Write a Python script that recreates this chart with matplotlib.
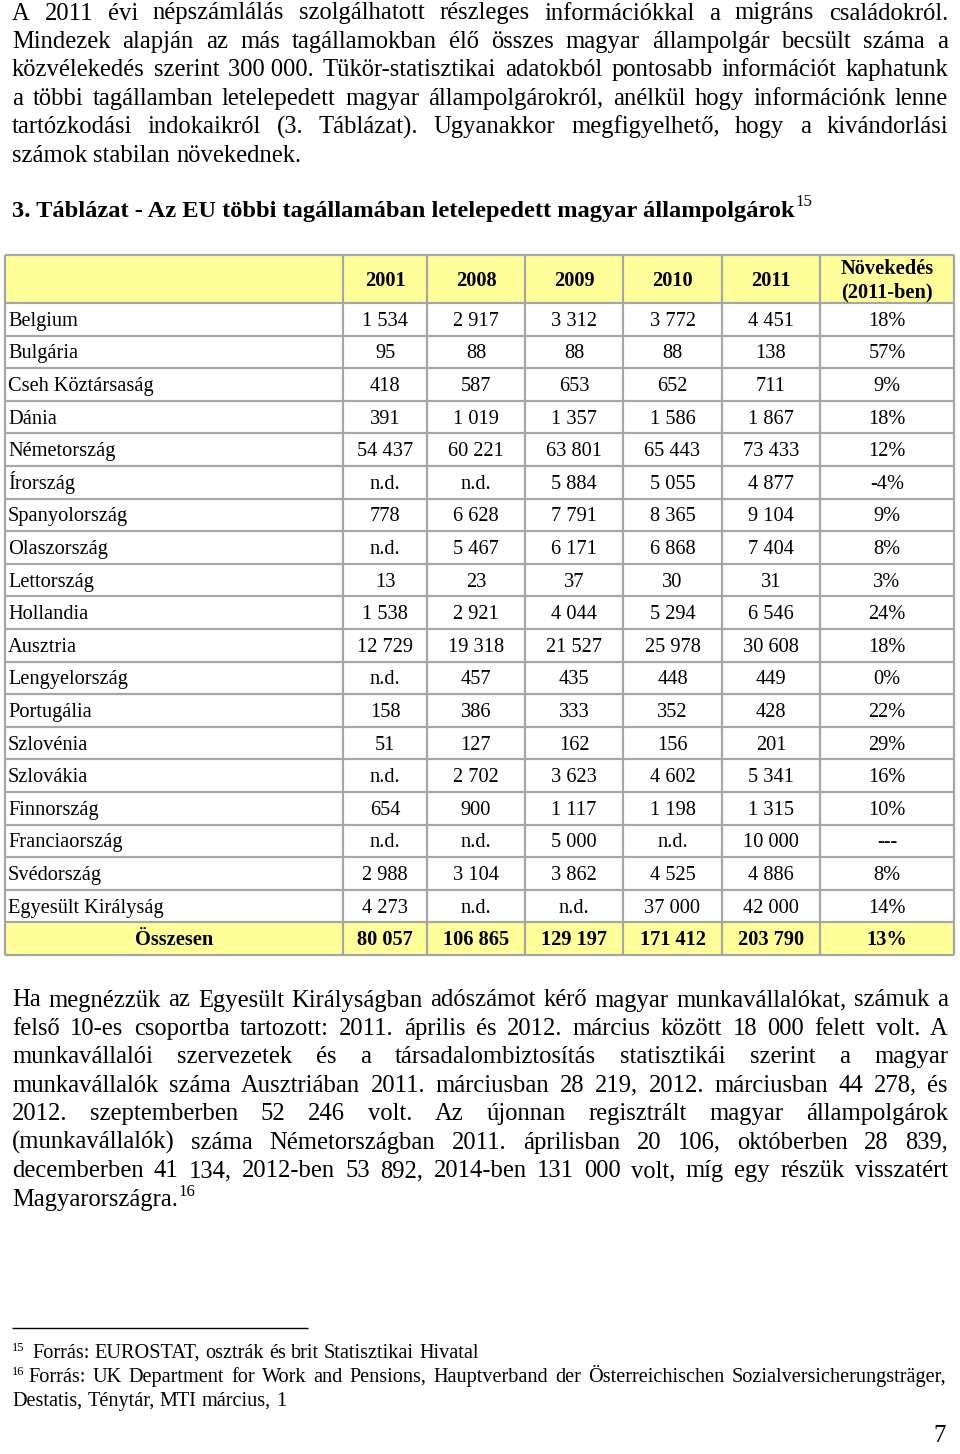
import matplotlib.pyplot as plt
from matplotlib.patches import Rectangle

plt.rcParams['font.family'] = ['Liberation Serif', 'DejaVu Serif']

# ---- table data ----
countries = ["Belgium", "Bulgária", "Cseh Köztársaság", "Dánia", "Németország",
             "Írország", "Spanyolország", "Olaszország", "Lettország", "Hollandia",
             "Ausztria", "Lengyelország", "Portugália", "Szlovénia", "Szlovákia",
             "Finnország", "Franciaország", "Svédország", "Egyesült Királyság"]
years = ["2001", "2008", "2009", "2010", "2011"]
v2001 = [1534, 95, 418, 391, 54437, None, 778, None, 13, 1538,
         12729, None, 158, 51, None, 654, None, 2988, 4273]
v2008 = [2917, 88, 587, 1019, 60221, None, 6628, 5467, 23, 2921,
         19318, 457, 386, 127, 2702, 900, None, 3104, None]
v2009 = [3312, 88, 653, 1357, 63801, 5884, 7791, 6171, 37, 4044,
         21527, 435, 333, 162, 3623, 1117, 5000, 3862, None]
v2010 = [3772, 88, 652, 1586, 65443, 5055, 8365, 6868, 30, 5294,
         25978, 448, 352, 156, 4602, 1198, None, 4525, 37000]
v2011 = [4451, 138, 711, 1867, 73433, 4877, 9104, 7404, 31, 6546,
         30608, 449, 428, 201, 5341, 1315, 10000, 4886, 42000]
growth = [18, 57, 9, 18, 12, -4, 9, 8, 3, 24, 18, 0, 22, 29, 16, 10, None, 8, 14]
totals = [80057, 106865, 129197, 171412, 203790]
total_growth = 13

# ---- text ----
para1 = [
    "A 2011 évi népszámlálás szolgálhatott részleges információkkal a migráns családokról.",
    "Mindezek alapján az más tagállamokban élő összes magyar állampolgár becsült száma a",
    "közvélekedés szerint 300\u00a0000. Tükör-statisztikai adatokból pontosabb információt kaphatunk",
    "a többi tagállamban letelepedett magyar állampolgárokról, anélkül hogy információnk lenne",
    "tartózkodási indokaikról (3. Táblázat). Ugyanakkor megfigyelhető, hogy a kivándorlási",
    "számok stabilan növekednek.",
]
title = "3. Táblázat - Az EU többi tagállamában letelepedett magyar állampolgárok"
para2 = [
    "Ha megnézzük az Egyesült Királyságban adószámot kérő magyar munkavállalókat, számuk a",
    "felső 10-es csoportba tartozott: 2011. április és 2012. március között 18 000 felett volt. A",
    "munkavállalói szervezetek és a társadalombiztosítás statisztikái szerint a magyar",
    "munkavállalók száma Ausztriában 2011. márciusban 28 219, 2012. márciusban 44 278, és",
    "2012. szeptemberben 52 246 volt. Az újonnan regisztrált magyar állampolgárok",
    "(munkavállalók) száma Németországban 2011. áprilisban 20 106, októberben 28 839,",
    "decemberben 41 134, 2012-ben 53 892, 2014-ben 131 000 volt, míg egy részük visszatért",
    "Magyarországra.",
]
foot15 = ["Forrás: EUROSTAT, osztrák és brit Statisztikai Hivatal"]
foot16 = ["Forrás: UK Department for Work and Pensions, Hauptverband der Österreichischen Sozialversicherungsträger,",
          "Destatis, Ténytár, MTI március, 1"]

BODY = 17.7
TAB = 14.7
FOOT = 14.6

fig = plt.figure(figsize=(9.6, 14.54), dpi=100)
ax = fig.add_axes([0, 0, 1, 1])
ax.set_xlim(0, 960)
ax.set_ylim(1454, 0)
ax.axis('off')
renderer = fig.canvas.get_renderer()


def width_of(s, **kw):
    t = ax.text(0, 0, s, **kw)
    w = t.get_window_extent(renderer).width
    t.remove()
    return w


def paragraph(lines, y0, step, size, left=12, right=948, first_left=None):
    space = width_of("a a", fontsize=size) - width_of("aa", fontsize=size)
    x = left
    for i, line in enumerate(lines):
        y = y0 + i * step
        lx = first_left if (i == 0 and first_left is not None) else left
        words = line.split(' ')
        ws = [width_of(w, fontsize=size) for w in words]
        if i == len(lines) - 1 or len(words) == 1:
            gap = space
        else:
            gap = (right - lx - sum(ws)) / (len(words) - 1)
        x = lx
        for w, wd in zip(words, ws):
            ax.text(x, y, w, fontsize=size, va='baseline', ha='left')
            x += wd + gap
        x -= gap
    return x


# first paragraph
paragraph(para1, 19.5, 28.4, BODY)

# table title with footnote mark
t = ax.text(12, 217, title, fontsize=BODY - 0.1, fontweight='bold', va='baseline')
tw = t.get_window_extent(renderer).width
ax.text(12 + tw + 1, 206, "15", fontsize=BODY * 0.68, va='baseline')

# ---- table ----
col_edges = [5, 343, 427, 525, 623, 722, 820, 954]
head_top, head_bot = 255, 303
row_h = 32.6
n = len(countries)
row_tops = [head_bot + i * row_h for i in range(n + 2)]
tab_bot = row_tops[-1]
yellow = '#ffff99'
grid = '#a6a6a6'

ax.add_patch(Rectangle((col_edges[0], head_top), col_edges[-1] - col_edges[0],
                       head_bot - head_top, facecolor=yellow, edgecolor='none'))
ax.add_patch(Rectangle((col_edges[0], row_tops[n]), col_edges[-1] - col_edges[0],
                       row_h, facecolor=yellow, edgecolor='none'))
ax.hlines([head_top] + row_tops, col_edges[0], col_edges[-1], colors=grid, lw=1.6)
ax.vlines(col_edges, head_top, tab_bot, colors=grid, lw=1.6)

centers = [(col_edges[i] + col_edges[i + 1]) / 2 for i in range(len(col_edges) - 1)]


def fmt(v):
    return "n.d." if v is None else f"{v:,}".replace(",", " ")


def pct(v):
    return "---" if v is None else f"{v}%"


head_mid = (head_top + head_bot) / 2
for c, yr in zip(centers[1:6], years):
    ax.text(c, head_mid + 6.5, yr, fontsize=TAB, fontweight='bold', ha='center', va='baseline')
ax.text(centers[6], head_mid - 5.5, "Növekedés", fontsize=TAB, fontweight='bold', ha='center', va='baseline')
ax.text(centers[6], head_mid + 18.5, "(2011-ben)", fontsize=TAB, fontweight='bold', ha='center', va='baseline')

cols = [v2001, v2008, v2009, v2010, v2011]
for i, name in enumerate(countries):
    yb = row_tops[i] + row_h / 2 + 6.5
    ax.text(8, yb, name, fontsize=TAB, va='baseline')
    for c, col in zip(centers[1:6], cols):
        ax.text(c, yb, fmt(col[i]), fontsize=TAB, ha='center', va='baseline')
    ax.text(centers[6], yb, pct(growth[i]), fontsize=TAB, ha='center', va='baseline')

yb = row_tops[n] + row_h / 2 + 6.5
ax.text(centers[0], yb, "Összesen", fontsize=TAB, fontweight='bold', ha='center', va='baseline')
for c, v in zip(centers[1:6], totals):
    ax.text(c, yb, fmt(v), fontsize=TAB, fontweight='bold', ha='center', va='baseline')
ax.text(centers[6], yb, pct(total_growth), fontsize=TAB, fontweight='bold', ha='center', va='baseline')

# second paragraph
xe = paragraph(para2, 1006.5, 28.45, BODY)
ax.text(xe + 1, 1196, "16", fontsize=BODY * 0.68, va='baseline')

# footnotes
ax.hlines(1328, 12, 308, colors='black', lw=1)
ax.text(12, 1351, "15", fontsize=FOOT * 0.62, va='baseline')
paragraph(foot15, 1358, 24, FOOT, left=32)
ax.text(12, 1375, "16", fontsize=FOOT * 0.62, va='baseline')
paragraph(foot16, 1382, 24, FOOT, left=12, right=946, first_left=28)

# page number
ax.text(946, 1442, "7", fontsize=18, ha='right', va='baseline')

fig.savefig("out.png", dpi=100)
